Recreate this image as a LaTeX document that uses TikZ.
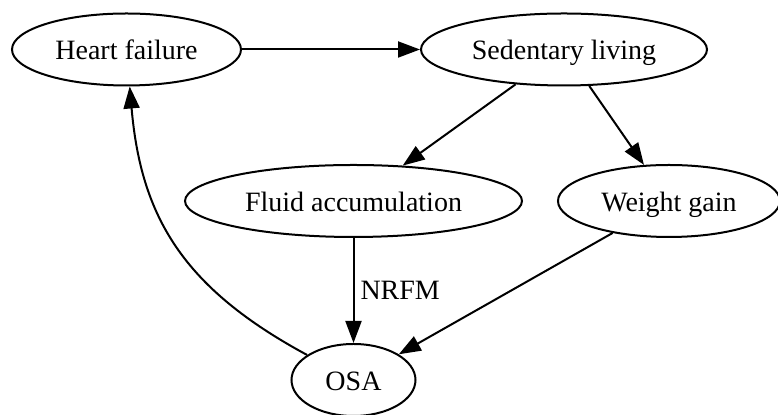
\documentclass[tikz,border=0pt]{standalone}
\usepackage{fontspec}
\setmainfont{Liberation Serif}
\usetikzlibrary{shapes.geometric,arrows.meta}
\begin{document}
\begin{tikzpicture}[x=0.5pt,y=-0.5pt,
  state/.style={ellipse, draw, line width=1pt, inner sep=0pt, minimum height=36pt, text height=13.5pt, text depth=3pt, font=\fontsize{14}{16}\selectfont},
  link/.style={line width=1pt, -{Triangle[length=11pt,width=8pt]}}]
\useasboundingbox (0,0) rectangle (778,415);

% Define the states
\node[state, minimum width=114.5pt] (heart) at (126.5,49.5) {Heart failure};
\node[state, minimum width=143pt] (sedentary) at (564,49.5) {Sedentary living};
\node[state, minimum width=168.5pt] (fluid) at (353.5,201) {Fluid accumulation};
\node[state, minimum width=111pt] (weight) at (669,201) {Weight gain};
\node[state, minimum width=62pt] (osa) at (353.5,380) {OSA};

% Draw the causal links
\draw[link] (heart) -- (sedentary);
\draw[link] (sedentary) -- (fluid);
\draw[link] (sedentary) -- (weight);
\draw[link] (fluid) -- node[right, inner sep=3pt, font=\fontsize{14}{16}\selectfont] (nrfm) {NRFM} (osa);
\draw[link] (weight) -- (osa);

% Draw the feedback from OSA back to heart failure
\draw[link] (osa) .. controls (183,288) and (141,217) .. (heart);
\end{tikzpicture}
\end{document}
